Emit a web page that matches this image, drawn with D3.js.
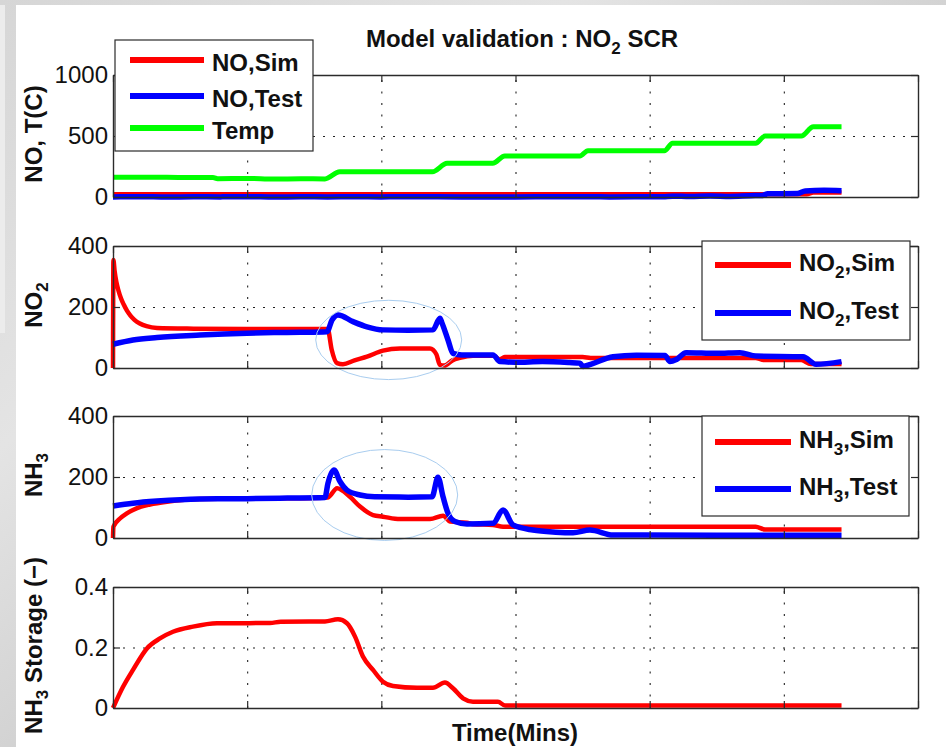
<!DOCTYPE html>
<html>
<head>
<meta charset="utf-8">
<script src="https://cdn.jsdelivr.net/npm/d3@7/dist/d3.min.js"></script>
<style>
  html, body { margin: 0; padding: 0; background: #ffffff; }
  svg { display: block; font-family: "Liberation Sans", Arial, Helvetica, sans-serif; }
</style>
</head>
<body>
<svg id="chart" width="946" height="747"></svg>
<script>
// ---------------------------------------------------------------
// Data: time axis (labels hidden) and the four measured/simulated
// quantities of the NO2 SCR validation run. Pairs are [time, value].
// ---------------------------------------------------------------
const timeDomain = [0, 6];
const timeTicks = [0, 1, 2, 3, 4, 5, 6];

// Panel 1: NO and catalyst temperature
const noSim = [[0, 22], [5.17, 22], [5.22, 36], [5.43, 36]];
const noTest = [[0, 1], [0.2, 3], [0.4, 0], [0.6, 2], [0.8, 1], [1.0, 3], [1.2, 0], [1.4, 2], [1.6, 1],
  [1.8, 3], [2.0, 1], [2.3, 2], [2.6, 0], [3.0, 1], [3.4, 2], [3.7, 1], [4.1, 2], [4.17, 7], [4.3, 4],
  [4.45, 9], [4.6, 5], [4.75, 11], [4.84, 13], [4.88, 26], [5.1, 28], [5.16, 50], [5.3, 55], [5.43, 52]];
const tempSeries = [[0, 162], [0.4, 161], [0.745, 160], [0.78, 150], [1.0, 152], [1.2, 147], [1.4, 150],
  [1.58, 148], [1.69, 207], [2.38, 207], [2.49, 276], [2.83, 276], [2.92, 336], [3.48, 336], [3.54, 380],
  [4.11, 380], [4.17, 440], [4.79, 440], [4.86, 500], [5.13, 500], [5.22, 576], [5.43, 576]];

// Panel 2: NO2
const no2Sim = [[0, 0], [0.003, 354], [0.012, 318], [0.025, 282], [0.04, 255], [0.06, 228], [0.08, 208],
  [0.104, 188], [0.13, 172], [0.16, 158], [0.2, 146], [0.25, 137], [0.328, 131], [0.6, 129], [1.0, 128],
  [1.4, 128], [1.6, 128], [1.63, 60], [1.67, 16], [1.714, 12], [1.8, 25], [1.893, 37], [2.012, 57],
  [2.139, 64], [2.363, 64], [2.41, 45], [2.437, 10], [2.47, 8], [2.53, 25], [2.586, 33], [2.683, 40],
  [2.84, 40], [2.88, 28], [2.92, 36], [3.5, 36], [3.56, 33], [4.79, 33], [4.85, 26], [5.13, 26],
  [5.2, 13], [5.43, 13]];
const no2Test = [[0, 78], [0.149, 92], [0.328, 100], [0.648, 108], [0.999, 114], [1.2, 116], [1.394, 117],
  [1.595, 119], [1.632, 157], [1.677, 174], [1.789, 152], [1.893, 135], [2.012, 125], [2.2, 124],
  [2.385, 125], [2.437, 163], [2.45, 150], [2.497, 92], [2.534, 48], [2.6, 43], [2.832, 43], [2.884, 21],
  [3.0, 19], [3.2, 21], [3.4, 18], [3.48, 16], [3.503, 5], [3.56, 12], [3.727, 37], [3.9, 42],
  [4.114, 41], [4.151, 21], [4.2, 28], [4.271, 50], [4.5, 48], [4.673, 50], [4.792, 39], [5.143, 37],
  [5.24, 12], [5.43, 21]];

// Panel 3: NH3
const nh3Sim = [[0, 0], [0.003, 37], [0.052, 64], [0.1, 80], [0.149, 92], [0.21, 103], [0.276, 110],
  [0.402, 119], [0.648, 128], [1.0, 129], [1.3, 130], [1.602, 133], [1.67, 163], [1.766, 135],
  [1.841, 103], [1.938, 75], [2.012, 70], [2.139, 62], [2.363, 62], [2.46, 73], [2.512, 54], [2.638, 50],
  [2.683, 45], [2.832, 43], [2.907, 37], [3.004, 37], [4.79, 37], [4.86, 28], [5.43, 28]];
const nh3Test = [[0, 105], [0.149, 114], [0.328, 121], [0.648, 128], [1.0, 129], [1.3, 131], [1.58, 133],
  [1.602, 179], [1.647, 223], [1.692, 185], [1.744, 157], [1.841, 141], [1.95, 135], [2.2, 134],
  [2.378, 135], [2.422, 199], [2.46, 135], [2.497, 81], [2.549, 54], [2.638, 46], [2.832, 48],
  [2.907, 92], [2.981, 43], [3.13, 26], [3.3, 19], [3.429, 17], [3.555, 26], [3.727, 10], [4.5, 9],
  [5.43, 9]];

// Panel 4: NH3 storage fraction (simulation only)
const nh3Storage = [[0, 0], [0.075, 0.070], [0.149, 0.126], [0.253, 0.197], [0.35, 0.230], [0.447, 0.252],
  [0.596, 0.269], [0.775, 0.280], [1.17, 0.281], [1.25, 0.285], [1.58, 0.286], [1.677, 0.293],
  [1.744, 0.280], [1.804, 0.236], [1.863, 0.170], [1.938, 0.126], [2.012, 0.087], [2.087, 0.073],
  [2.266, 0.067], [2.385, 0.067], [2.474, 0.084], [2.534, 0.065], [2.609, 0.032], [2.683, 0.021],
  [2.869, 0.021], [2.922, 0.008], [5.43, 0.008]];

// Tick values per panel
const noTicks = [0, 500, 1000];
const no2Ticks = [0, 200, 400];
const nh3Ticks = [0, 200, 400];
const storageTicks = [0, 0.2, 0.4];

// Highlighted transient regions: [time centre, value centre, time half-width, value half-height]
const no2Region = [2.055, 92, 0.544, 130];
const nh3Region = [2.025, 141, 0.544, 149];

// ---------------------------------------------------------------
// Layout and style
// ---------------------------------------------------------------
const W = 946, H = 747;
const plotLeft = 113, plotRight = 918;
const FRAME = "#2b2b2b";
const RED = "#ff0000", BLUE = "#0000ff", GREEN = "#00ff00";
const svg = d3.select("#chart");

// slide background: grey margin strips with soft streaks
const defs = svg.append("defs");
const bg = defs.append("linearGradient").attr("id", "bgGrad")
  .attr("x1", "0").attr("y1", "0").attr("x2", "1").attr("y2", "1");
[["0%", "#d6d6d6"], ["30%", "#e4e4e4"], ["55%", "#cfcfcf"], ["80%", "#e2e2e2"], ["100%", "#d4d4d4"]]
  .forEach(([o, c]) => bg.append("stop").attr("offset", o).attr("stop-color", c));
svg.append("rect").attr("width", W).attr("height", H).attr("fill", "url(#bgGrad)");
svg.append("rect").attr("x", 0).attr("y", 5).attr("width", 5).attr("height", 328).attr("fill", "#ececec");
svg.append("rect").attr("x", 16).attr("y", 5).attr("width", W - 16).attr("height", H - 5).attr("fill", "#ffffff");

const x = d3.scaleLinear().domain(timeDomain).range([plotLeft, plotRight]);

const panels = [
  { top: 75, bottom: 197, domain: [0, 1000], ticks: noTicks, fmt: d3.format("d"),
    label: [{ t: "NO, T(C)" }],
    series: [{ data: noSim, color: RED, w: 4.5 }, { data: noTest, color: BLUE, w: 5.5 },
             { data: tempSeries, color: GREEN, w: 5 }] },
  { top: 246, bottom: 368, domain: [0, 400], ticks: no2Ticks, fmt: d3.format("d"),
    label: [{ t: "NO" }, { t: "2", sub: true }],
    series: [{ data: no2Sim, color: RED, w: 4.5 }, { data: no2Test, color: BLUE, w: 5.5 }],
    region: no2Region },
  { top: 416, bottom: 538, domain: [0, 400], ticks: nh3Ticks, fmt: d3.format("d"),
    label: [{ t: "NH" }, { t: "3", sub: true }],
    series: [{ data: nh3Sim, color: RED, w: 4.5 }, { data: nh3Test, color: BLUE, w: 5.5 }],
    region: nh3Region },
  { top: 587, bottom: 708, domain: [0, 0.4], ticks: storageTicks, fmt: d => d === 0 ? "0" : d3.format(".1f")(d),
    label: [{ t: "NH" }, { t: "3", sub: true }, { t: " Storage (\u2212)" }],
    series: [{ data: nh3Storage, color: RED, w: 4.5 }] }
];

// writes text segments, lowering subscripts
function writeParts(textSel, parts, subSize, shift) {
  let lowered = false;
  parts.forEach(p => {
    const ts = textSel.append("tspan").text(p.t);
    if (p.sub) { ts.attr("font-size", subSize).attr("dy", shift); lowered = true; }
    else if (lowered) { ts.attr("dy", -shift); lowered = false; }
  });
}

panels.forEach(p => {
  const y = d3.scaleLinear().domain(p.domain).range([p.bottom, p.top]);
  const g = svg.append("g");

  // grid
  g.append("g").attr("transform", `translate(0,${p.bottom})`)
    .call(d3.axisBottom(x).tickValues(timeTicks.slice(1, -1)).tickSize(-(p.bottom - p.top)).tickFormat(""))
    .call(a => a.select(".domain").remove())
    .call(a => a.selectAll("line").attr("stroke", "#222").attr("stroke-width", 1.1).attr("stroke-dasharray", "2,9.5"));
  g.append("g").attr("transform", `translate(${plotLeft},0)`)
    .call(d3.axisLeft(y).tickValues(p.ticks.slice(1, -1)).tickSize(-(plotRight - plotLeft)).tickFormat(""))
    .call(a => a.select(".domain").remove())
    .call(a => a.selectAll("line").attr("stroke", "#222").attr("stroke-width", 1.1).attr("stroke-dasharray", "2,8"));

  // data lines
  const line = d3.line().x(d => x(d[0])).y(d => y(d[1])).curve(d3.curveMonotoneX);
  p.series.forEach(s => {
    g.append("path").datum(s.data).attr("d", line)
      .attr("fill", "none").attr("stroke", s.color).attr("stroke-width", s.w)
      .attr("stroke-linejoin", "round").attr("stroke-linecap", "butt");
  });

  // highlighted region
  if (p.region) {
    const [ct, cv, dt, dv] = p.region;
    g.append("ellipse")
      .attr("cx", x(ct)).attr("cy", y(cv))
      .attr("rx", x(ct + dt) - x(ct)).attr("ry", y(cv) - y(cv + dv))
      .attr("fill", "none").attr("stroke", "#a9cdef").attr("stroke-width", 1);
  }

  // frame with inward ticks on all four sides
  const styleAxis = a => {
    a.select(".domain").attr("stroke", FRAME).attr("stroke-width", 1.4);
    a.selectAll(".tick line").attr("stroke", FRAME).attr("stroke-width", 1.2);
  };
  g.append("g").attr("transform", `translate(0,${p.bottom})`)
    .call(d3.axisBottom(x).tickValues(timeTicks).tickSizeInner(-7).tickSizeOuter(0).tickFormat(""))
    .call(styleAxis);
  g.append("g").attr("transform", `translate(0,${p.top})`)
    .call(d3.axisTop(x).tickValues(timeTicks).tickSizeInner(-7).tickSizeOuter(0).tickFormat(""))
    .call(styleAxis);
  g.append("g").attr("transform", `translate(${plotRight},0)`)
    .call(d3.axisRight(y).tickValues(p.ticks).tickSizeInner(-7).tickSizeOuter(0).tickFormat(""))
    .call(styleAxis);
  g.append("g").attr("transform", `translate(${plotLeft},0)`)
    .call(d3.axisLeft(y).tickValues(p.ticks).tickSizeInner(-7).tickSizeOuter(0).tickPadding(5).tickFormat(p.fmt))
    .call(styleAxis)
    .call(a => a.selectAll("text").attr("font-size", 24).attr("fill", "#111")
      .attr("font-family", "'Liberation Sans', Arial, sans-serif"));

  // y label
  const lab = g.append("text")
    .attr("transform", `translate(42,${(p.top + p.bottom) / 2 - 2}) rotate(-90)`)
    .attr("text-anchor", "middle").attr("font-size", 24).attr("font-weight", "bold").attr("fill", "#111");
  writeParts(lab, p.label, 17, 6);
});

// title
const title = svg.append("text").attr("x", 522).attr("y", 47).attr("text-anchor", "middle")
  .attr("font-size", 24).attr("font-weight", "bold").attr("fill", "#111");
writeParts(title, [{ t: "Model validation : NO" }, { t: "2", sub: true }, { t: " SCR" }], 17, 7);

// x label
svg.append("text").attr("x", 515).attr("y", 741).attr("text-anchor", "middle")
  .attr("font-size", 24).attr("font-weight", "bold").attr("fill", "#111").text("Time(Mins)");

// legends
const legends = [
  { box: [115, 40, 198, 111], lineX: [130, 204], textX: 212, rows: [60, 96, 128], base: 11,
    items: [{ parts: [{ t: "NO,Sim" }], color: RED }, { parts: [{ t: "NO,Test" }], color: BLUE },
            { parts: [{ t: "Temp" }], color: GREEN }] },
  { box: [702, 241, 208, 99], lineX: [715, 791], textX: 799, rows: [265, 313], base: 6,
    items: [{ parts: [{ t: "NO" }, { t: "2", sub: true }, { t: ",Sim" }], color: RED },
            { parts: [{ t: "NO" }, { t: "2", sub: true }, { t: ",Test" }], color: BLUE }] },
  { box: [702, 416, 207, 100], lineX: [715, 791], textX: 799, rows: [442, 489], base: 6,
    items: [{ parts: [{ t: "NH" }, { t: "3", sub: true }, { t: ",Sim" }], color: RED },
            { parts: [{ t: "NH" }, { t: "3", sub: true }, { t: ",Test" }], color: BLUE }] }
];
legends.forEach(L => {
  const g = svg.append("g");
  g.append("rect").attr("x", L.box[0]).attr("y", L.box[1]).attr("width", L.box[2]).attr("height", L.box[3])
    .attr("fill", "#fff").attr("stroke", FRAME).attr("stroke-width", 1.2);
  L.items.forEach((it, i) => {
    const yy = L.rows[i];
    g.append("line").attr("x1", L.lineX[0]).attr("x2", L.lineX[1]).attr("y1", yy).attr("y2", yy)
      .attr("stroke", it.color).attr("stroke-width", 6);
    const t = g.append("text").attr("x", L.textX).attr("y", yy + L.base)
      .attr("font-size", 24).attr("font-weight", "bold").attr("fill", "#111");
    writeParts(t, it.parts, 17, 7);
  });
});
</script>
</body>
</html>
